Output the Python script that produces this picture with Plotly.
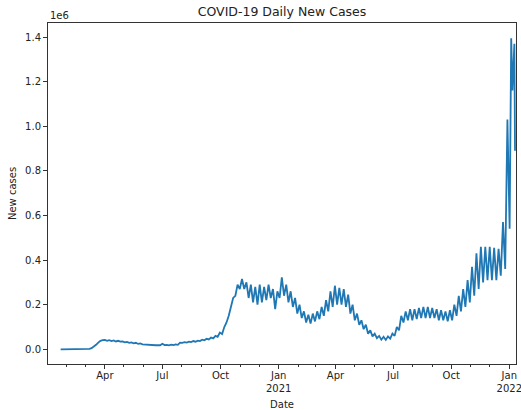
import pandas as pd
import plotly.graph_objects as go

# ---- data (values in millions of new cases) ----
early_start = "2020-01-22"          # 3.5-day spacing until end of March 2020
early_cases = [0, 0, 0, 0, 0, 0, 0, 0, 0, 0, 0, 0,
               0.0005, 0.002, 0.005, 0.011, 0.02, 0.03, 0.038, 0.041]

week_start = "2020-04-01"           # weekly high / low pairs from Apr 2020
weekly_high = [
    0.042, 0.041, 0.040, 0.038, 0.035,          # Apr 2020
    0.033, 0.031, 0.029, 0.026,                 # May
    0.021, 0.020, 0.019, 0.019,                 # Jun
    0.025, 0.020, 0.021, 0.022, 0.030,          # Jul
    0.032, 0.034, 0.037, 0.039,                 # Aug
    0.043, 0.047, 0.053, 0.060, 0.075,          # Sep
    0.10, 0.15, 0.23, 0.29,                     # Oct
    0.315, 0.30, 0.29, 0.28,                    # Nov
    0.29, 0.28, 0.29, 0.27, 0.26,               # Dec
    0.323, 0.29, 0.26, 0.23,                    # Jan 2021
    0.20, 0.17, 0.155, 0.16,                    # Feb
    0.17, 0.19, 0.22, 0.26, 0.285,              # Mar
    0.275, 0.27, 0.245, 0.20,                   # Apr
    0.16, 0.13, 0.11, 0.085,                    # May
    0.07, 0.06, 0.056, 0.058, 0.07,             # Jun
    0.10, 0.15, 0.17, 0.18,                     # Jul
    0.18, 0.185, 0.19, 0.19,                    # Aug
    0.185, 0.18, 0.175, 0.17, 0.175,            # Sep
    0.20, 0.24, 0.27, 0.31,                     # Oct
    0.37, 0.43, 0.46, 0.46,                     # Nov
    0.46, 0.455, 0.45, 0.57,                    # Dec
]
weekly_low = [
    0.038, 0.037, 0.035, 0.034, 0.031,
    0.029, 0.027, 0.024, 0.022,
    0.019, 0.018, 0.018, 0.018,
    0.019, 0.018, 0.019, 0.020, 0.029,
    0.030, 0.032, 0.034, 0.037,
    0.040, 0.044, 0.049, 0.056, 0.068,
    0.12, 0.19, 0.24, 0.27,
    0.27, 0.23, 0.21, 0.20,
    0.21, 0.22, 0.23, 0.18, 0.23,
    0.24, 0.21, 0.19, 0.16,
    0.14, 0.12, 0.115, 0.125,
    0.135, 0.15, 0.17, 0.19, 0.20,
    0.20, 0.19, 0.16, 0.13,
    0.11, 0.09, 0.07, 0.058,
    0.05, 0.043, 0.042, 0.048, 0.06,
    0.085, 0.12, 0.13, 0.13,
    0.135, 0.14, 0.14, 0.14,
    0.14, 0.13, 0.13, 0.125, 0.13,
    0.15, 0.17, 0.19, 0.21,
    0.24, 0.27, 0.30, 0.31,
    0.31, 0.31, 0.33, 0.36,
]

tail_dates = ["2021-12-29", "2022-01-01 12:00", "2022-01-04", "2022-01-06",
              "2022-01-09", "2022-01-10"]
tail_cases = [1.03, 0.54, 1.395, 1.16, 1.37, 0.89]

x_tick_dates = ["2020-04-01", "2020-07-01", "2020-10-01", "2021-01-01",
                "2021-04-01", "2021-07-01", "2021-10-01", "2022-01-01"]
x_tick_text = ["Apr", "Jul", "Oct", "Jan<br>2021", "Apr", "Jul", "Oct", "Jan<br>2022"]
y_tick_vals = [0.0, 0.2, 0.4, 0.6, 0.8, 1.0, 1.2, 1.4]

# ---- assemble series ----
dates = list(pd.date_range(early_start, periods=len(early_cases), freq="84h"))
cases = list(early_cases)
wk = pd.date_range(week_start, periods=len(weekly_high), freq="7D")
for d, hi, lo in zip(wk, weekly_high, weekly_low):
    dates += [d, d + pd.Timedelta(hours=84)]
    cases += [hi, lo]
dates += [pd.Timestamp(t) for t in tail_dates]
cases += tail_cases

fig = go.Figure()
fig.add_trace(go.Scatter(x=dates, y=cases, mode="lines",
                         line=dict(color="#1f77b4", width=1.8),
                         showlegend=False))

font = "DejaVu Sans"
fig.update_layout(
    width=521, height=410,
    margin=dict(l=48, r=5, t=23, b=46),
    paper_bgcolor="white", plot_bgcolor="white",
    font=dict(family=font, size=10, color="#222"),
    title=dict(text="COVID-19 Daily New Cases", x=0.5413,
               xanchor="center", y=0.972, yanchor="middle",
               font=dict(family=font, size=12.5, color="#222")),
)
fig.update_xaxes(
    range=["2020-01-02", "2022-01-11 14:00"],
    tickvals=x_tick_dates, ticktext=x_tick_text,
    showgrid=False, zeroline=False, automargin=False,
    ticklabeloverflow="allow", ticklabelstandoff=-2,
    showline=True, mirror=True, linecolor="#333", linewidth=1,
    ticks="outside", ticklen=4, tickcolor="#333",
    minor=dict(ticks="outside", ticklen=2, tickcolor="#333",
               dtick="M1", tick0="2020-01-01", showgrid=False),
    title=dict(text="Date", standoff=7, font=dict(size=10)),
    tickfont=dict(size=10),
)
fig.update_yaxes(
    range=[-0.066, 1.463],
    tickvals=y_tick_vals, ticktext=[f"{v:.1f}" for v in y_tick_vals],
    showgrid=False, zeroline=False, automargin=False,
    showline=True, mirror=True, linecolor="#333", linewidth=1,
    ticks="outside", ticklen=4, tickcolor="#333",
    title=dict(text="New cases", standoff=6, font=dict(size=10)),
    tickfont=dict(size=10),
)
fig.add_annotation(text="1e6", xref="paper", yref="paper", x=0, y=1,
                   xanchor="left", yanchor="bottom", showarrow=False,
                   font=dict(family=font, size=10, color="#222"))

fig.write_html("out.html", config={"displayModeBar": False},
               post_script="document.body.style.margin='0';")
